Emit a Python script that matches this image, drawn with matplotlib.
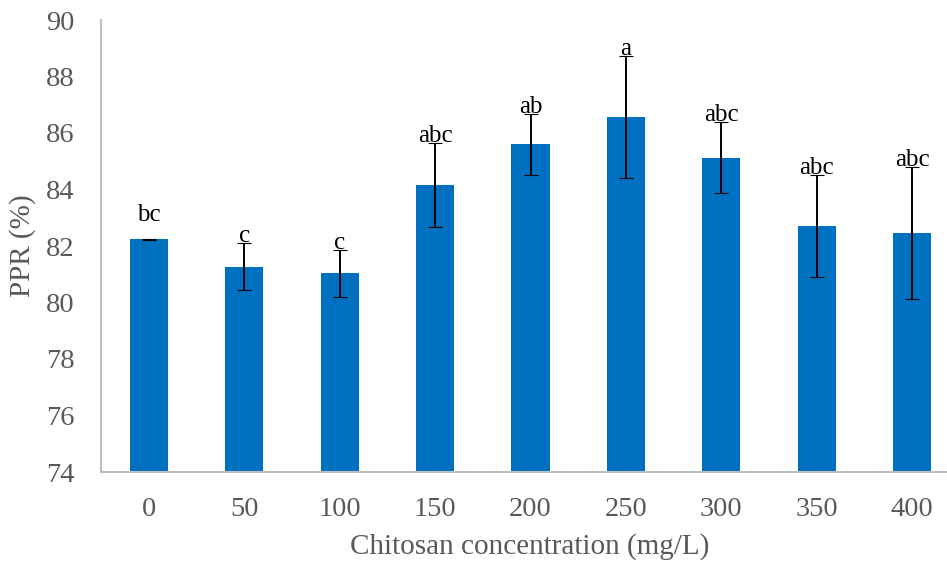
import numpy as np
import matplotlib.pyplot as plt

# PPR vs chitosan dose, mean +/- error, with significance letters
concentracion = ['0', '50', '100', '150', '200', '250', '300', '350', '400']
ppr = [82.24, 81.27, 81.03, 84.16, 85.60, 86.56, 85.13, 82.71, 82.47]
error = [0.01, 0.83, 0.83, 1.50, 1.09, 2.16, 1.25, 1.81, 2.33]
letras = ['bc', 'c', 'c', 'abc', 'ab', 'a', 'abc', 'abc', 'abc']

plt.rcParams['font.family'] = ['Liberation Serif', 'DejaVu Serif']
gris = '#595959'

fig = plt.figure(figsize=(9.47, 5.67), dpi=100)
ax = fig.add_axes([101 / 947, 95 / 567, 859 / 947, 452 / 567])

x = np.arange(len(concentracion))
ax.bar(x, ppr, width=0.4, color='#0070C0', zorder=2)
ax.errorbar(x, ppr, yerr=error, fmt='none', ecolor='black', elinewidth=1.4,
            capsize=5, capthick=0.8, zorder=3)

# letras encima de la barra de error
for i in range(len(x)):
    desp = 17 if letras[i] == 'bc' else 5
    ax.annotate(letras[i], (x[i], ppr[i] + error[i]), xytext=(0, desp),
                textcoords='offset points', ha='center', va='center',
                fontsize=18, color='black', zorder=4)

ax.set_xlim(-0.5, 8.5)
ax.set_ylim(74, 90)
ax.set_yticks(np.arange(74, 91, 2))
ax.set_xticks(x)
ax.set_xticklabels(concentracion)
ax.tick_params(length=0, labelsize=20.5, colors=gris)
ax.tick_params(axis='y', pad=19)
ax.tick_params(axis='x', pad=18)

for lado in ['top', 'right']:
    ax.spines[lado].set_visible(False)
for lado in ['left', 'bottom']:
    ax.spines[lado].set_color('#bfbfbf')
    ax.spines[lado].set_linewidth(1.5)

ax.set_xlabel('Chitosan concentration (mg/L)', fontsize=21, color=gris)
ax.set_ylabel('PPR (%)', fontsize=21, color=gris)
ax.xaxis.set_label_coords((530 - 101) / 859, -(533 - 472) / 452)
ax.yaxis.set_label_coords(-(101 - 36) / 859, 0.5)

fig.savefig('out.png', dpi=100)
